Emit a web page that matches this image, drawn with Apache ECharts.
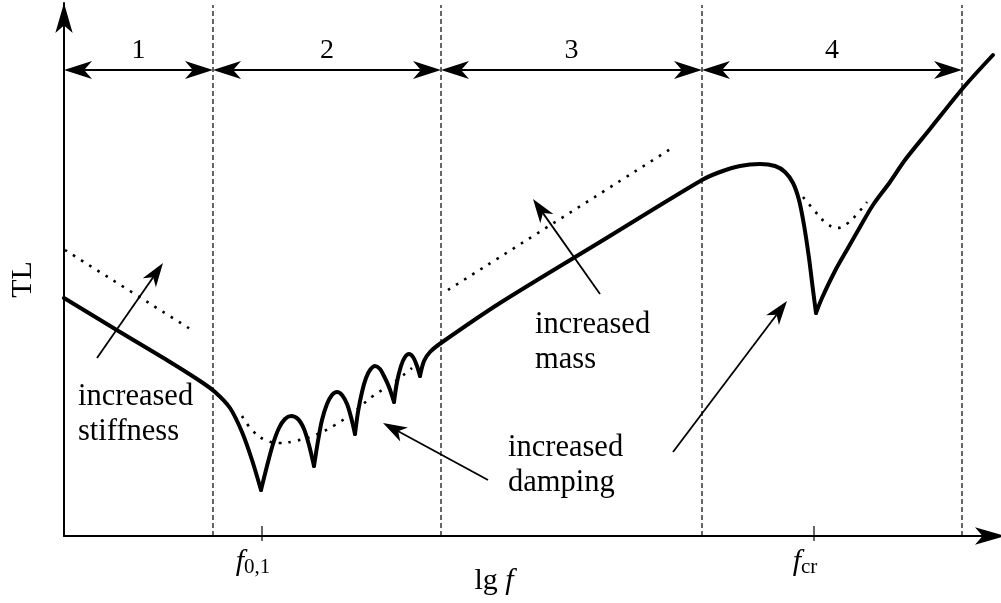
<!DOCTYPE html>
<html>
<head>
<meta charset="utf-8">
<title>TL vs lg f</title>
<script src="https://cdn.jsdelivr.net/npm/echarts@6.0.0/dist/echarts.min.js"></script>
<style>
html, body { margin: 0; padding: 0; background: #fff; }
#container { width: 1001px; height: 603px; }
</style>
</head>
<body>
<div id="container"></div>
<script>
// axis extents (schematic units, lg f across, TL up)
var xMax = 941;
var yMax = 533;

// TL curve, split at the sharp dips so they stay pointed
var tlCurve = [
    [[0, 238], [56, 204], [106, 174], [136, 155], [151, 144], [166, 128], [178, 104], [188, 76], [197, 46]],
    [[197, 46], [203, 70], [209, 92], [215, 108], [221, 117], [227, 120], [234, 117], [240, 107], [245, 91], [250, 70]],
    [[250, 70], [254, 95], [258, 116], [263, 132], [268, 141], [273, 144], [278, 141], [283, 132], [287, 119], [291, 102]],
    [[291, 102], [294, 124], [298, 144], [302, 158], [306, 166], [311, 170], [316, 167], [320, 160], [325, 149], [330, 134]],
    [[330, 134], [333, 154], [337, 170], [341, 179], [345, 182], [349, 179], [353, 170], [356, 160]],
    [[356, 160], [360, 175], [366, 184], [377, 193], [436, 233], [536, 294], [638, 356], [656, 364], [676, 370],
     [696, 372], [711, 370], [721, 364], [729, 353], [735, 336], [740, 311], [745, 278], [749, 246], [752, 223]],
    [[752, 223], [758, 238], [771, 265], [784, 288], [796, 309], [809, 331], [826, 354], [841, 376], [866, 407],
     [899, 448], [929, 481]]
];

// dotted "increased ..." curves
var stiffDots = [[1, 286], [131, 204]];
var dampDots = [[178, 120], [188, 106], [201, 96], [216, 93], [231, 95], [249, 100], [271, 111], [291, 125],
                [309, 140], [329, 153], [348, 168]];
var massDots = [[384, 246], [608, 388]];
var critDots = [[739, 339], [750, 326], [761, 314], [773, 308], [784, 313], [794, 323], [803, 334]];

// regions
var regionBounds = [0, 149, 377, 638, 898];
var regionNames = ['1', '2', '3', '4'];
var regionArrowY = 466;
var regionLabelY = 485;
var dividerTop = 531;

// ticks on lg f axis
var tickValues = [198, 750];
var tickNames = ['0,1', 'cr'];

// annotation arrows: tail x, tail y, tip x, tip y
var pointers = [[33, 178, 99, 273], [536, 242, 469, 337], [424, 56, 319, 113], [609, 84, 723, 235]];

var notes = [
    { text: 'increased\nstiffness', x: 14, y: 157 },
    { text: 'increased\nmass', x: 471, y: 229 },
    { text: 'increased\ndamping', x: 444, y: 106 }
];

var font = '"Liberation Serif", "Times New Roman", serif';

var dom = document.getElementById('container');
var myChart = echarts.init(dom);

// stealth style arrow head
function head(tip, tail, len, wid) {
    var dx = tip[0] - tail[0], dy = tip[1] - tail[1];
    var d = Math.sqrt(dx * dx + dy * dy);
    var ux = dx / d, uy = dy / d;
    var nx = -uy * wid / 2, ny = ux * wid / 2;
    var bx = tip[0] - ux * len, by = tip[1] - uy * len;
    var notch = [tip[0] - ux * len * 0.72, tip[1] - uy * len * 0.72];
    return {
        notch: notch,
        poly: {
            type: 'polygon',
            shape: { points: [[tip[0], tip[1]], [bx + nx, by + ny], notch, [bx - nx, by - ny]] },
            style: { fill: '#000' }
        }
    };
}

var series = [];

tlCurve.forEach(function (seg) {
    series.push({
        type: 'line', data: seg, smooth: 0.3, symbol: 'none', clip: false, silent: true,
        lineStyle: { color: '#000', width: 4, cap: 'round', join: 'round' }
    });
});

[stiffDots, dampDots, massDots, critDots].forEach(function (d) {
    series.push({
        type: 'line', data: d, smooth: 0.4, symbol: 'none', clip: false, silent: true,
        lineStyle: { color: '#000', width: 2.6, type: [2.6, 7] }
    });
});

regionBounds.slice(1).forEach(function (x) {
    series.push({
        type: 'line', data: [[x, 0], [x, dividerTop]], symbol: 'none', clip: false, silent: true,
        lineStyle: { color: '#000', width: 1.2, type: [5, 3] }
    });
});

// double arrows with region numbers
series.push({
    type: 'custom', coordinateSystem: 'cartesian2d', clip: false, silent: true,
    data: regionNames.map(function (n, i) { return [regionBounds[i], regionBounds[i + 1], regionArrowY]; }),
    renderItem: function (params, api) {
        var a = api.coord([api.value(0), api.value(2)]);
        var b = api.coord([api.value(1), api.value(2)]);
        var h1 = head(a, b, 28, 18);
        var h2 = head(b, a, 28, 18);
        var ly = api.coord([0, regionLabelY])[1];
        return {
            type: 'group',
            children: [
                { type: 'line', shape: { x1: h1.notch[0], y1: h1.notch[1], x2: h2.notch[0], y2: h2.notch[1] },
                  style: { stroke: '#000', lineWidth: 2 } },
                h1.poly, h2.poly,
                { type: 'text', style: { text: regionNames[params.dataIndex], x: (a[0] + b[0]) / 2, y: ly,
                  align: 'center', verticalAlign: 'middle', fontFamily: font, fontSize: 28, fill: '#000' } }
            ]
        };
    }
});

// annotation arrows
series.push({
    type: 'custom', coordinateSystem: 'cartesian2d', clip: false, silent: true,
    data: pointers,
    renderItem: function (params, api) {
        var tail = api.coord([api.value(0), api.value(1)]);
        var tip = api.coord([api.value(2), api.value(3)]);
        var h = head(tip, tail, 24, 16);
        return {
            type: 'group',
            children: [
                { type: 'line', shape: { x1: tail[0], y1: tail[1], x2: h.notch[0], y2: h.notch[1] },
                  style: { stroke: '#000', lineWidth: 1.8 } },
                h.poly
            ]
        };
    }
});

// notes
series.push({
    type: 'custom', coordinateSystem: 'cartesian2d', clip: false, silent: true,
    data: notes.map(function (n) { return [n.x, n.y]; }),
    renderItem: function (params, api) {
        var p = api.coord([api.value(0), api.value(1)]);
        return {
            type: 'text',
            style: { text: notes[params.dataIndex].text, x: p[0], y: p[1], align: 'left', verticalAlign: 'top',
                     fontFamily: font, fontSize: 30.5, lineHeight: 35, fill: '#000' }
        };
    }
});

// tick marks crossing the lg f axis
series.push({
    type: 'custom', coordinateSystem: 'cartesian2d', clip: false, silent: true,
    data: tickValues.map(function (v) { return [v, 0]; }),
    renderItem: function (params, api) {
        var p = api.coord([api.value(0), 0]);
        return { type: 'line', shape: { x1: p[0], y1: p[1] - 10, x2: p[0], y2: p[1] + 5 },
                 style: { stroke: '#000', lineWidth: 1.2 } };
    }
});

var option = {
    animation: false,
    backgroundColor: '#fff',
    grid: { left: 64, right: -4, top: 3, bottom: 67, outerBoundsMode: 'none', containLabel: false },
    xAxis: {
        type: 'value', min: 0, max: xMax,
        name: '{n|lg }{i|f}', nameLocation: 'middle', nameGap: 30, nameMoveOverlap: false,
        nameTextStyle: {
            padding: [0, 81, 0, 0],
            rich: {
                n: { fontFamily: font, fontSize: 30, color: '#000' },
                i: { fontFamily: font, fontSize: 30, fontStyle: 'italic', color: '#000' }
            }
        },
        axisLine: { show: true, lineStyle: { color: '#000', width: 2 }, symbol: ['none', 'arrow'], symbolSize: [13, 30] },
        axisTick: { show: false },
        splitLine: { show: false },
        axisLabel: {
            customValues: tickValues,
            margin: 10,
            padding: [0, 18, 0, 0],
            formatter: function (v) {
                var k = tickValues.indexOf(v);
                return '{i|f}{s|' + tickNames[k] + '}';
            },
            rich: {
                i: { fontFamily: font, fontSize: 30, fontStyle: 'italic', color: '#000', lineHeight: 32 },
                s: { fontFamily: font, fontSize: 21, color: '#000', verticalAlign: 'bottom', lineHeight: 22 }
            }
        }
    },
    yAxis: {
        type: 'value', min: 0, max: yMax,
        name: 'TL', nameLocation: 'middle', nameRotate: 90, nameGap: 26,
        nameTextStyle: { fontFamily: font, fontSize: 30, color: '#000', padding: [0, 20, 0, 0] },
        axisLine: { show: true, lineStyle: { color: '#000', width: 2 }, symbol: ['none', 'arrow'], symbolSize: [13, 30] },
        axisTick: { show: false },
        axisLabel: { show: false },
        splitLine: { show: false }
    },
    series: series
};

myChart.setOption(option);
</script>
</body>
</html>
